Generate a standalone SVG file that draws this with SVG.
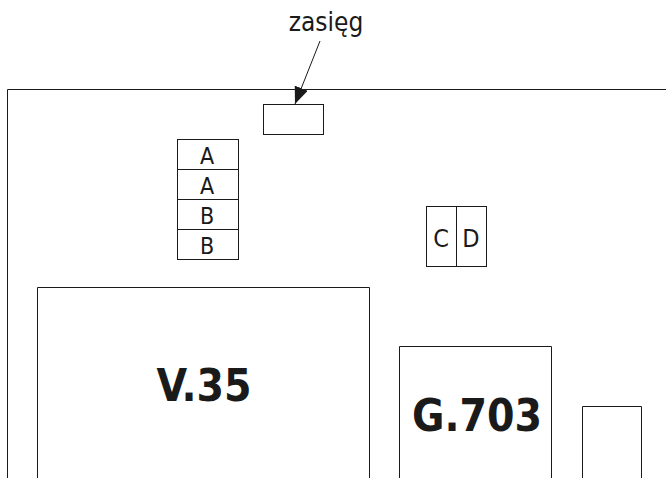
<svg xmlns="http://www.w3.org/2000/svg" width="666" height="478" viewBox="0 0 666 478">
<defs>
<style>
.ln{fill:none;stroke:#1a1a1a;stroke-width:1}
.bx{fill:#fff;stroke:#1a1a1a;stroke-width:1}
.t{font-family:"DejaVu Sans Condensed","DejaVu Sans",sans-serif;fill:#1a1a1a;text-anchor:middle}
.big{font-family:"DejaVu Sans Condensed","DejaVu Sans",sans-serif;font-weight:bold;font-size:44px;fill:#1a1a1a;text-anchor:middle}
</style>
<marker id="ah" markerWidth="17" markerHeight="14" refX="17" refY="7" orient="auto" markerUnits="userSpaceOnUse">
<path d="M0,0 L17,7 L0,14 Z" fill="#1a1a1a"/>
</marker>
</defs>
<g id="frame">
<path class="ln" d="M7.5,478 V89.5 H666"/>
</g>
<g id="zasieg-label">
<text class="t" x="326" y="31" font-size="26">zasięg</text>
</g>
<g id="zasieg-box">
<rect class="bx" x="263.5" y="104.5" width="60" height="30"/>
</g>
<g id="abab">
<rect class="bx" x="177.5" y="139.5" width="61" height="30"/>
<rect class="bx" x="177.5" y="169.5" width="61" height="30"/>
<rect class="bx" x="177.5" y="199.5" width="61" height="30"/>
<rect class="bx" x="177.5" y="229.5" width="61" height="30"/>
<text class="t" x="207" y="164" font-size="23">A</text>
<text class="t" x="207" y="194" font-size="23">A</text>
<text class="t" x="207" y="224" font-size="23">B</text>
<text class="t" x="207" y="254" font-size="23">B</text>
</g>
<g id="cd">
<rect class="bx" x="426.5" y="206.5" width="30" height="60"/>
<rect class="bx" x="456.5" y="206.5" width="30" height="60"/>
<text class="t" x="441" y="247" font-size="25">C</text>
<text class="t" x="471" y="247" font-size="25">D</text>
</g>
<g id="v35">
<path class="ln" d="M37.5,478 V287.5 H369.5 V478"/>
<text class="big" x="204" y="401">V.35</text>
</g>
<g id="g703">
<path class="ln" d="M399.5,478 V346.5 H551.5 V478"/>
<text class="big" x="477" y="431">G.703</text>
</g>
<g id="small">
<path class="ln" d="M582.5,478 V406.5 H641.5 V478"/>
</g>
<g id="connectors">
<line class="ln" x1="320" y1="41" x2="295" y2="104" marker-end="url(#ah)"/>
</g>
</svg>
